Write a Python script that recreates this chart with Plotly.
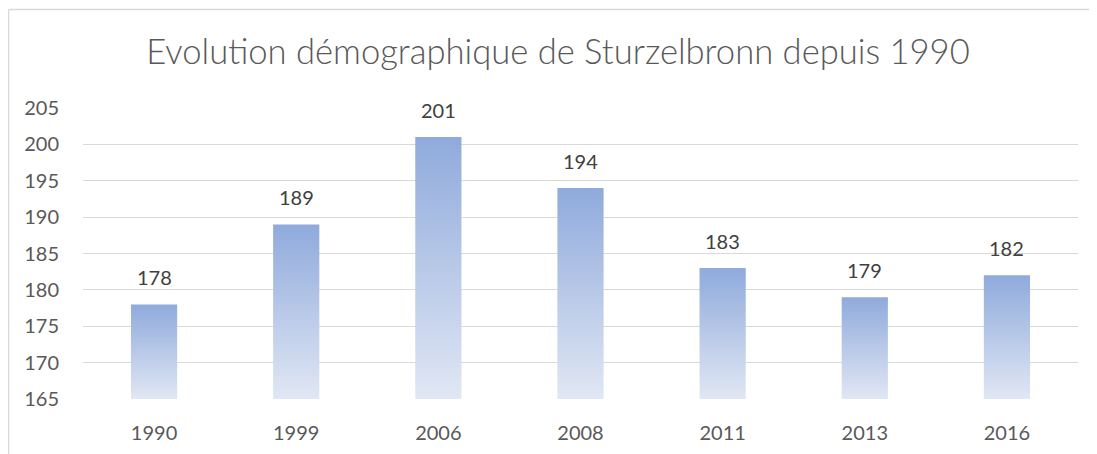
import plotly.graph_objects as go

years = ["1990", "1999", "2006", "2008", "2011", "2013", "2016"]
population = [178, 189, 201, 194, 183, 179, 182]
y_ticks = [165, 170, 175, 180, 185, 190, 195, 200, 205]

title_text = "Evolution démographique de Sturzelbronn depuis 1990"
y_min, y_max = 165, 205
bar_width = 0.325
top_color = "#8FAADC"
bottom_color = "#E1E7F4"
font_family = "Lato, 'Open Sans', sans-serif"

# plot area in figure pixels (page has an 8px body offset)
L, R, T, B = 75, 27, 100, 63
W, H = 1097, 454
pw, ph = W - L - R, H - T - B

fig = go.Figure()

for i, v in enumerate(population):
    x0, x1 = i - bar_width / 2, i + bar_width / 2
    fig.add_trace(go.Scatter(
        x=[x0, x0, x1, x1, x0],
        y=[y_min, v, v, y_min, y_min],
        mode="lines",
        line=dict(width=0),
        fill="toself",
        fillgradient=dict(
            type="vertical",
            colorscale=[[0, bottom_color], [1, top_color]],
            start=y_min,
            stop=v,
        ),
        hoverinfo="skip",
        showlegend=False,
    ))
    fig.add_annotation(
        x=i, y=v, text=str(v), showarrow=False, yshift=27,
        font=dict(family=font_family, size=20, color="#404040"),
    )

fig.update_layout(
    width=W, height=H,
    margin=dict(l=L, r=R, t=T, b=B),
    paper_bgcolor="white", plot_bgcolor="white",
    title=dict(
        text=title_text,
        x=550 / W, xanchor="center",
        y=1 - 44 / H, yanchor="middle",
        font=dict(family=font_family, size=34.6, color="#595959", weight=300),
    ),
    xaxis=dict(
        range=[-0.5, len(years) - 0.5],
        tickvals=list(range(len(years))),
        ticktext=years,
        showgrid=False, zeroline=False, showline=False,
        ticks="",
        ticklabelstandoff=20,
        tickfont=dict(family=font_family, size=20, color="#595959"),
        fixedrange=True,
    ),
    yaxis=dict(
        range=[y_min, y_max],
        tickvals=y_ticks,
        showgrid=True, gridcolor="#D9D9D9", gridwidth=1,
        zeroline=False, showline=False,
        ticks="",
        ticklabelstandoff=23,
        tickfont=dict(family=font_family, size=20, color="#595959"),
        fixedrange=True,
    ),
    shapes=[
        dict(type="line", xref="paper", yref="paper",
             x0=(0.5 - L) / pw, x1=(W + 5 - L) / pw,
             y0=(T + ph - 1.5) / ph, y1=(T + ph - 1.5) / ph,
             line=dict(color="#D9D9D9", width=1.5), layer="below"),
        dict(type="line", xref="paper", yref="paper",
             x0=(0.5 - L) / pw, x1=(0.5 - L) / pw,
             y0=(T + ph - 1.5) / ph, y1=-(B + 10) / ph,
             line=dict(color="#D9D9D9", width=1.5), layer="below"),
    ],
)

fig.write_html("out.html")
